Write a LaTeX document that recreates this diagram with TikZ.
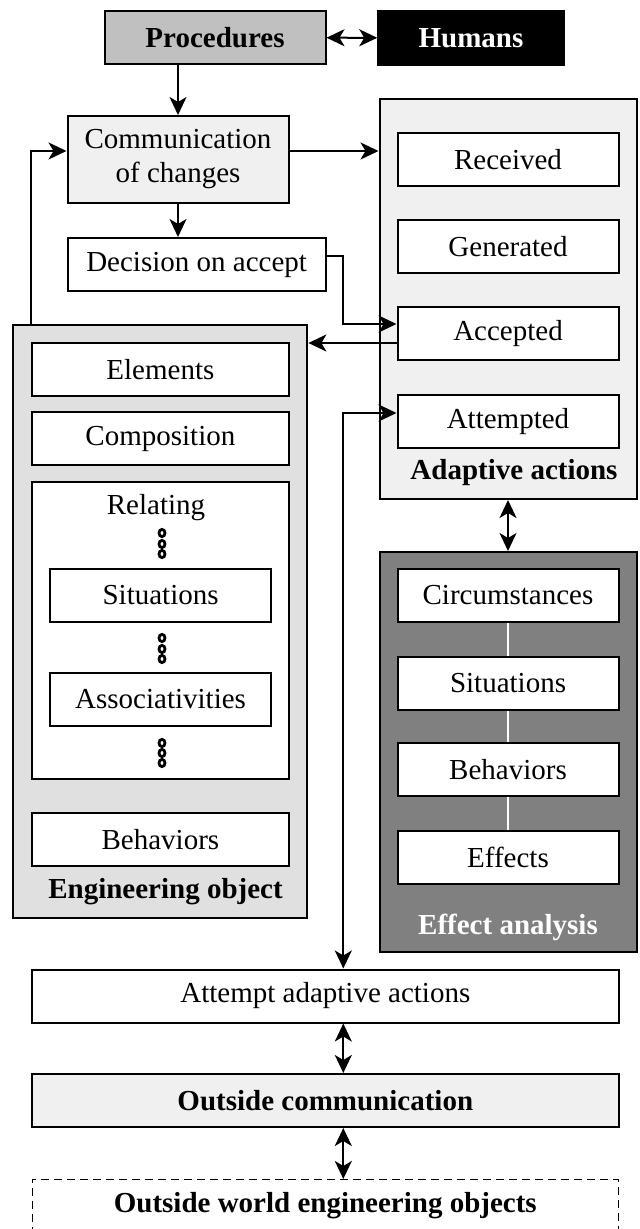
\documentclass[tikz,border=0pt]{standalone}
\usepackage{fontspec}
\setmainfont{Liberation Serif}
\usepackage{xcolor}
\usepackage{tikz}
\usetikzlibrary{shapes,arrows,arrows.meta}
\definecolor{procgray}{HTML}{C0C0C0}
\definecolor{palegray}{HTML}{F0F0F0}
\definecolor{objgray}{HTML}{E0E0E0}
\definecolor{effectgray}{HTML}{808080}
\tikzstyle{box} = [rectangle, draw, fill=white, line width=1pt, text centered, inner sep=0pt, minimum width=110.5pt, minimum height=26.5pt]
\tikzstyle{group} = [rectangle, draw, line width=1pt, inner sep=0pt, minimum width=128.5pt]
\tikzstyle{line} = [draw, line width=1pt, -{Stealth[length=9pt, width=8.5pt, inset=2.5pt]}]
\tikzstyle{dline} = [draw, line width=1pt, {Stealth[length=9pt, width=8.5pt, inset=2.5pt]}-{Stealth[length=9pt, width=8.5pt, inset=2.5pt]}]

\begin{document}
\begin{tikzpicture}[x=0.5pt, y=-0.5pt, font=\fontsize{14.5}{17}\selectfont]
        \useasboundingbox (0,0) rectangle (639,1229);

        % Place groups
        \node [group, fill=palegray, minimum height=200pt] (adapt) at (508,299) {};
        \node [group, fill=effectgray, minimum height=200pt] (effect) at (508,752) {};
        \node [group, fill=objgray, minimum width=147pt, minimum height=296.5pt] (eng) at (160.4,621.5) {};
        \node at (514,473) {\textbf{Adaptive actions}};
        \node [text=white] at (508,927) {\textbf{Effect analysis}};
        \node at (165.5,892) {\textbf{Engineering object}};

        % Place nodes
        \node [box, fill=procgray] (proc) at (215,37.5) {\textbf{Procedures}};
        \node [box, fill=black, draw=black, text=white, minimum width=92.75pt, minimum height=27pt] (humans) at (471,38) {\textbf{Humans}};
        \node [box, fill=palegray, align=center, minimum height=43.5pt] (comm) at (178,159.5) {Communication\\of changes};
        \node [box, minimum width=129pt] (decision) at (196.6,264.5) {Decision on accept};

        \node [box] (received) at (508,159.5) {Received};
        \node [box] (generated) at (508,246.5) {Generated};
        \node [box] (accepted) at (508,334) {Accepted};
        \node [box] (attempted) at (508,421.5) {Attempted};

        \draw [white, line width=0.75pt] (508,595) -- (508,857);
        \node [box] (circ) at (508,595.5) {Circumstances};
        \node [box] (effsit) at (508,683) {Situations};
        \node [box] (effbeh) at (508,769.5) {Behaviors};
        \node [box] (effects) at (508,857) {Effects};

        \node [box, minimum width=128.4pt] (elements) at (160.4,369.5) {Elements};
        \node [box, minimum width=128.4pt] (composition) at (160.4,438.5) {Composition};
        \node [box, minimum width=128.4pt, minimum height=148.5pt] (relating) at (160.4,630.5) {};
        \node at (156,508) {Relating};
        \node [box] (objsit) at (160.6,595.5) {Situations};
        \node [box] (assoc) at (160.6,699.5) {Associativities};
        \node [box, minimum width=128.4pt] (objbeh) at (160.4,839.5) {Behaviors};
        \foreach \y in {533,544,554,638,649,659,743,753,763}
            \draw [line width=1.4pt] (162,\y) ellipse (1.5pt and 1.8pt);

        \node [box, minimum width=293.3pt] (attempt) at (325.3,996) {Attempt adaptive actions};
        \node [box, fill=palegray, minimum width=293.3pt] (outcomm) at (325.3,1100.5) {\textbf{Outside communication}};
        \node [box, dashed, dash pattern=on 4pt off 2.5pt, line width=0.5pt, minimum width=293.3pt] (outworld) at (325.3,1206) {\textbf{Outside world engineering objects}};
        \coordinate (spine) at (343.3,0);

        % Draw edges
        \path [dline] (proc) -- (humans);
        \path [line] (comm.north |- proc.south) -- (comm.north);
        \path [line] ([yshift=4.25pt]comm.east) -- ([yshift=4.25pt]comm.east -| adapt.west);
        \path [line] ([xshift=9.25pt]eng.north west) |- ([yshift=4.25pt]comm.west);
        \path [line] (comm.south) -- (comm.south |- decision.north);
        \path [line] ([yshift=4.25pt]decision.east) -| ([yshift=5pt]spine |- accepted.west) -- ([yshift=5pt]accepted.west);
        \path [line] ([yshift=-4.5pt]accepted.west) -- ([yshift=-4.5pt]accepted.west -| eng.east);
        \path [dline] (spine |- attempt.north) |- ([yshift=4.25pt]attempted.west);
        \path [dline] (adapt) -- (effect);
        \path [dline] (spine |- attempt.south) -- (spine |- outcomm.north);
        \path [dline] (spine |- outcomm.south) -- (spine |- outworld.north);
    \end{tikzpicture}
\end{document}
